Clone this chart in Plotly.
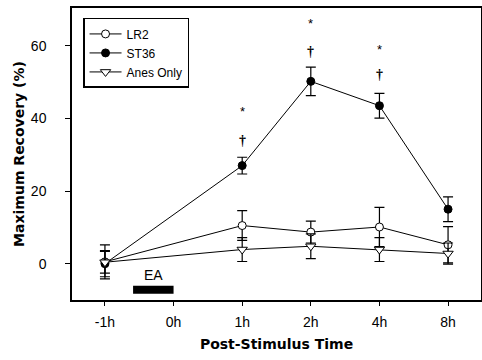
import plotly.graph_objects as go

times = ["-1h", "0h", "1h", "2h", "4h", "8h"]
t_lr2 = ["-1h", "1h", "2h", "4h", "8h"]

lr2 = [0.5, 10.5, 8.7, 10.1, 5.2]
lr2_err = [4.7, 4.1, 3.0, 5.4, 5.0]
st36 = [0.0, 27.0, 50.2, 43.5, 15.0]
st36_err = [3.6, 2.3, 3.9, 3.4, 3.4]
anes = [0.4, 3.9, 4.8, 3.9, 2.8]
anes_err = [3.0, 3.3, 3.4, 3.3, 2.9]

sig_times = ["1h", "2h", "4h"]
dagger_y = [34, 58.4, 52]
star_y = [42, 66, 59]

ea_start, ea_end, ea_y = 0.41, 1.0, -7.2

font = "Liberation Sans, Arial, sans-serif"
narrow = "Liberation Sans Narrow, Arial Narrow, Liberation Sans, sans-serif"
bold = "DejaVu Sans, Verdana, sans-serif"

fig = go.Figure()

def add(name, y, err, symbol, fill):
    fig.add_trace(go.Scatter(
        x=t_lr2, y=y, name=name, mode="lines+markers",
        line=dict(color="black", width=1),
        marker=dict(symbol=symbol, size=8 if "circle" in symbol else 9,
                    color=fill, line=dict(color="black", width=1)),
        error_y=dict(type="data", array=err, color="black", thickness=1.2, width=5),
    ))

add("LR2", lr2, lr2_err, "circle", "white")
add("ST36", st36, st36_err, "circle", "black")
add("Anes Only", anes, anes_err, "triangle-down", "white")

for t, yd, ys in zip(sig_times, dagger_y, star_y):
    fig.add_annotation(x=t, y=yd, text="<b>†</b>", showarrow=False,
                       font=dict(family="Liberation Serif", size=14, color="#000000"))
    fig.add_annotation(x=t, y=ys, text="*", showarrow=False,
                       font=dict(family=font, size=13, color="#000000"))

fig.add_shape(type="line", x0=ea_start, x1=ea_end, y0=ea_y, y1=ea_y,
              line=dict(color="black", width=8), xref="x", yref="y")
fig.add_annotation(x=(ea_start + ea_end) / 2, y=-3, text="EA", showarrow=False,
                   font=dict(family=font, size=14, color="black"))

fig.update_layout(
    width=482, height=360,
    margin=dict(l=72, r=1, t=8, b=60, autoexpand=False),
    plot_bgcolor="white", paper_bgcolor="white",
    font=dict(family=font, size=12, color="black"),
    showlegend=True,
    legend=dict(x=0.027, y=0.966, xanchor="left", yanchor="top",
                bordercolor="black", borderwidth=1.5, bgcolor="white",
                font=dict(size=12), tracegroupgap=0, itemwidth=32),
    xaxis=dict(type="category", categoryorder="array", categoryarray=times,
               tickvals=times, range=[-0.48, 5.48], automargin=False,
               showline=True, linecolor="black", linewidth=1.5, mirror=True,
               ticks="outside", ticklen=4, tickcolor="black",
               tickfont=dict(family=narrow, size=14), ticklabelstandoff=4,
               showgrid=False, zeroline=False,
               title=dict(text="<b>Post-Stimulus Time</b>",
                          font=dict(family=bold, size=14), standoff=11)),
    yaxis=dict(range=[-10, 70.4], tickvals=[0, 20, 40, 60], automargin=False,
               showline=True, linecolor="black", linewidth=1.5, mirror=True,
               ticks="outside", ticklen=5, tickcolor="black",
               tickfont=dict(family=narrow, size=14), ticklabelstandoff=16,
               showgrid=False, zeroline=False,
               title=dict(text="<b>Maximum Recovery (%)</b>",
                          font=dict(family=bold, size=14), standoff=3)),
)

fig.write_html("out.html", config={"displayModeBar": False},
               post_script="document.body.style.margin='0';document.body.style.overflow='hidden';")
